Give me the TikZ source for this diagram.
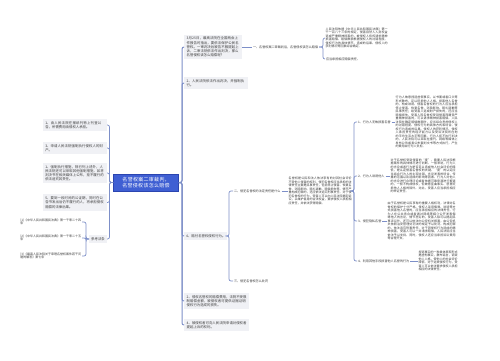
\documentclass[tikz,border=0pt]{standalone}
\usepackage{fontspec}
\setmainfont{Noto Sans CJK SC}
\XeTeXlinebreaklocale "zh"
\XeTeXlinebreakskip=0pt plus 0.5pt
\setlength\parindent{0pt}
\definecolor{linec}{HTML}{7D8FC8}
\definecolor{boxg}{HTML}{F0F1F5}
\definecolor{txt}{HTML}{3A3A3A}
\definecolor{cfill}{HTML}{3F5FD3}
\definecolor{cdraw}{HTML}{2B45B0}
\newcommand{\fsz}[2]{\fontsize{#1}{#2}\selectfont}
\tikzset{
  gbox/.style={fill=boxg, text=txt, inner sep=2.5pt, anchor=west, align=left, font=\fsz{3.4}{4.2}},
  ptext/.style={text=txt, inner sep=0.5pt, anchor=west, align=justify, font=\fsz{3}{3.5}},
  lab/.style={text=txt, inner sep=0.8pt, anchor=west, font=\fsz{3.1}{3.6}},
  conn/.style={draw=linec, line width=0.7pt, rounded corners=2pt},
  mainconn/.style={draw=linec, line width=1pt, rounded corners=2pt},
  central/.style={fill=cfill, draw=cdraw, line width=0.6pt, text=white, font=\fsz{5}{6.3}, align=center, text width=59pt, inner sep=3pt}
}
\begin{document}
\begin{tikzpicture}[x=1pt,y=-1pt]
\fill[white] (0,0) rectangle (500,360);
\useasboundingbox (0,0) rectangle (500,360);

\coordinate (bL) at (109.5,0);
\coordinate (bR) at (182,0);
\coordinate (bA) at (323,0);
\coordinate (bB) at (229,0);
\coordinate (bC) at (354,0);
\coordinate (bD) at (86,0);

% central
\node[central] (c) at (146,182.5) {名誉权案二审裁判，名誉侵权该怎么赔偿};

% left side
\node[gbox, anchor=east, text width=59pt] (l1) at (107,125) {1、由人民法院在报纸刊物上刊登公告，所需费用由侵权人承担。};
\node[gbox, anchor=east, text width=59pt] (l2) at (107,148) {3、申请人民法院强制执行侵权人的财产。};
\node[gbox, anchor=east, text width=59pt] (l3) at (107,173) {1、强制执行措施，除已列上述外，人民法院还可以采取其他强制措施，如将判决书在相关媒体上公布，拒不履行的依法追究其责任。};
\node[gbox, anchor=east, text width=59pt] (l4) at (107,202.5) {5、要到一段时间的公证期，同时在公告书发出后仍不履行的人，将承担侵权赔偿的法律后果。};
\node[gbox, anchor=east, inner sep=2pt] (l5) at (107,239) {参考法条};

\node[ptext, align=left, anchor=east, text width=61pt] (f1) at (82,222) {[1]《中华人民共和国民法典》第一千零二十四条};
\node[ptext, align=left, anchor=east, text width=61pt] (f2) at (82,238) {[2]《中华人民共和国民法典》第一千零二十五条};
\node[ptext, align=left, anchor=east, text width=61pt] (f3) at (82,256) {[3]《最高人民法院关于审理名誉权案件若干问题的解答》第七条};

\foreach \n in {l1,l2,l3,l4,l5}
  \draw[conn] (c.west) -- (c.west -| bL) |- (\n.east);
\foreach \n in {f1,f2,f3}
  \draw[conn] (l5.west) -- (l5.west -| bD) |- (\n.east);

% right side
\node[gbox, text width=53pt] (r1) at (184,47) {3月25日，最高法院在全国两会上作报告时指出，要依法保护公民名誉权。一审判决后被告不服提起上诉，二审法院依法作出判决，那么名誉侵权该怎么赔偿呢？};
\node[gbox, text width=59pt] (r2) at (184,83) {2、人民法院依法作出判决，并强制执行。};
\node[gbox, inner sep=2pt] (r3) at (184,236) {4、赔付名誉权侵权行为。};
\node[gbox, text width=60pt] (r4) at (184,301) {2、侵权名誉权的赔偿费用，法院不受限制赔偿金额，被侵权者可提供证据证明侵权行为造成的损失。};
\node[gbox, text width=60pt] (r5) at (184,325) {4、被侵权者可向人民法院申请对侵权者提起上诉的权利。};

\foreach \n in {r1,r2,r3,r4,r5}
  \draw[mainconn] (c.east) -- (c.east -| bR) |- (\n.west);

% branch one
\node[lab] (r1a) at (252,47) {一、名誉权案二审裁判后，名誉侵权该怎么赔偿};
\node[ptext, text width=62pt] (r1p) at (325,38) {人民法院依据《中华人民共和国民法典》第一千一百八十三条的规定，侵害自然人人身权益造成严重精神损害的，被侵权人有权请求精神损害赔偿。赔偿数额根据侵权人的过错程度、侵权行为的具体情节、造成的后果、侵权人的获利情况等因素综合确定。};
\node[lab] (r1q) at (325,59) {应当承担相应赔偿责任。};
\draw[conn] (r1.east) -- (r1a.west);
\draw[conn] (r1a.east) -- (r1a.east -| bA) |- (r1p.west);
\draw[conn] (r1a.east) -- (r1a.east -| bA) |- (r1q.west);

% branch four
\node[lab] (r3a) at (233,191) {二、侵犯名誉权的法定责任是什么};
\node[lab] (r3b) at (233,281) {三、侵犯名誉权怎么处罚};
\draw[conn] (r3.east) -- (r3.east -| bB) |- (r3a.west);
\draw[conn] (r3.east) -- (r3.east -| bB) |- (r3b.west);

\node[ptext, text width=63pt] (r3p) at (288,191) {名誉权是公民和法人依法享有的对其社会评价不受他人侵害的权利。侵犯名誉权应当承担的法律责任主要是民事责任，包括停止侵害、恢复名誉、消除影响、赔礼道歉、赔偿损失等。情节严重构成犯罪的，还应依法追究刑事责任。对于侵犯名誉权的行为，受害人可以向人民法院提起诉讼，以维护自身的合法权益，要求侵权人承担相应责任，并依法获得赔偿。};
\draw[conn] (r3a.east) -- (r3p.west);

\node[lab] (q1) at (357,122) {1、行为人无故损害名誉};
\node[lab] (q2) at (357,176) {2、行为人诽谤他人};
\node[lab] (q3) at (357,221) {3、侵犯隐私名誉};
\node[lab] (q4) at (357,261) {4、利用其他手段损害他人名誉的行为};
\foreach \n in {q1,q2,q3,q4}
  \draw[conn] (r3p.east) -- (r3p.east -| bC) |- (\n.west);

\node[ptext, text width=62pt] (p1) at (395,122) {行为人故意捏造虚假事实，以书面或者口头等形式散布，足以贬损他人人格、损害他人名誉的，构成诽谤。侵害名誉权的行为人应当承担停止侵害、恢复名誉、消除影响、赔礼道歉等民事责任；给受害人造成财产损失的，还应当赔偿损失。受害人因名誉权受到侵害而遭受严重精神损害的，可以请求精神损害赔偿。人民法院在确定赔偿数额时，应当综合考虑侵权人的过错程度、侵权行为的具体方式和场合、侵权行为造成的后果、侵权人的获利情况、侵权人承担责任的经济能力以及受诉法院所在地的平均生活水平等因素。行为人拒不执行判决的，人民法院可以采取在报刊、网络等媒体上发布公告或者公布裁判文书等方式执行，产生的费用由行为人负担。};
\node[ptext, text width=65pt] (p2) at (390,176) {对于名誉权受到侵害的“度”，需要人民法院根据案件的具体情况进行判断。一般来说，行为人的言论或者行为是否足以造成他人社会评价的降低，是认定侵害名誉权的关键。“度”的认定应当结合行为人的主观过错、言论发表的场合、传播的范围以及造成的影响等因素。行为人对他人的言论进行合理评论或者依据可靠来源进行报道的，一般不构成侵权，但故意歪曲事实、恶意贬损他人人格的除外。对此，受害人应当承担相应的举证责任。};
\node[ptext, text width=68pt] (p3) at (387,221) {由于名誉权是公民享有的重要人格权利，法律对名誉权的保护十分严格。侵权人采用侮辱、诽谤等方式损害他人名誉的，应当承担相应的法律责任。行为人在公共场合或者通过网络等媒介公开发表侮辱他人的言论，情节恶劣的，受害人除可以提起民事诉讼外，还可以依法向公安机关报案，由公安机关依照治安管理处罚法的规定予以处罚。构成犯罪的，依法追究刑事责任。对于因侵权行为造成的精神损害，受害人可以一并请求赔偿，人民法院应当依法予以支持。同时，侵权人还应当承担诉讼费用等合理开支。};
\node[ptext, text width=39pt] (p4) at (418,261) {捏造事实的一种具体表现形式是虚构事实，散布谣言，诋毁他人人格，使他人的社会评价降低。对于这类侵权行为，受害人可以依法要求侵权人承担相应的法律责任。};
\draw[conn] (q1.east) -- (p1.west);
\draw[conn] (q2.east) -- (p2.west);
\draw[conn] (q3.east) -- (p3.west);
\draw[conn] (q4.east) -- (p4.west);
\end{tikzpicture}
\end{document}
